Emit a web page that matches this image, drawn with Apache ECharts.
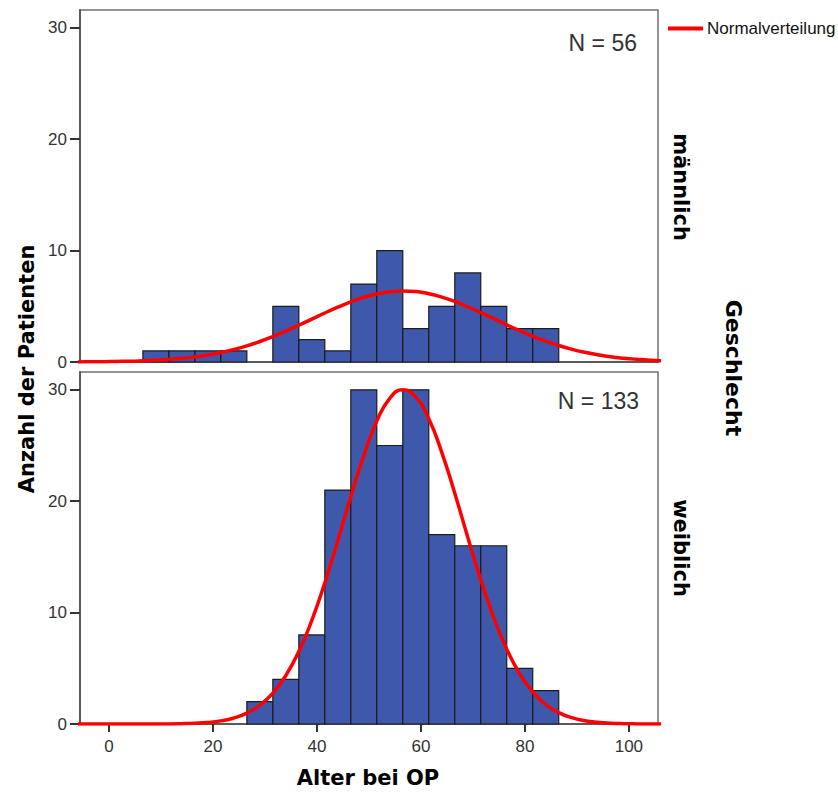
<!DOCTYPE html>
<html>
<head>
<meta charset="utf-8">
<style>
  html, body { margin: 0; padding: 0; background: #ffffff; }
  #chart { width: 838px; height: 794px; }
</style>
<script src="https://cdn.jsdelivr.net/npm/echarts@6/dist/echarts.min.js"></script>
</head>
<body>
<div id="chart"></div>
<script>
// Histogram bins of age at surgery (width 5 years)
const binStarts = [6.5, 11.5, 16.5, 21.5, 26.5, 31.5, 36.5, 41.5, 46.5, 51.5, 56.5, 61.5, 66.5, 71.5, 76.5, 81.5];
const binWidth = 5;
const countsMale   = [1, 1, 1, 1, 0, 5, 2, 1, 7, 10, 3, 5, 8, 5, 3, 3];
const countsFemale = [0, 0, 0, 0, 2, 4, 8, 21, 30, 25, 30, 17, 16, 16, 5, 3];

// Fitted normal curves (expected counts per bin), sampled every 2.5 years
const curveAges = [-8.5, -6, -3.5, -1, 1.5, 4, 6.5, 9, 11.5, 14, 16.5, 19, 21.5, 24, 26.5, 29, 31.5, 34, 36.5, 39,
                   41.5, 44, 46.5, 49, 51.5, 54, 56.5, 59, 61.5, 64, 66.5, 69, 71.5, 74, 76.5, 79, 81.5, 84, 86.5, 89,
                   91.5, 94, 96.5, 99, 101.5, 104, 106.5];
const curveMale = [0.01, 0.01, 0.02, 0.03, 0.05, 0.07, 0.11, 0.16, 0.23, 0.33, 0.46, 0.63, 0.85, 1.13, 1.45, 1.84, 2.28, 2.77, 3.30, 3.85,
                   4.40, 4.92, 5.40, 5.81, 6.11, 6.31, 6.38, 6.32, 6.13, 5.83, 5.44, 4.96, 4.44, 3.89, 3.34, 2.81, 2.32, 1.87, 1.48, 1.15,
                   0.87, 0.65, 0.47, 0.34, 0.24, 0.16, 0.11];
const curveFemale = [0, 0, 0, 0, 0, 0, 0, 0.01, 0.01, 0.03, 0.07, 0.14, 0.28, 0.54, 0.98, 1.68, 2.77, 4.35, 6.51, 9.30,
                     12.67, 16.46, 20.40, 24.11, 27.19, 29.24, 30.0, 29.35, 27.40, 24.39, 20.71, 16.77, 12.96, 9.55, 6.71, 4.50, 2.88, 1.75, 1.02, 0.57,
                     0.30, 0.15, 0.07, 0.03, 0.01, 0, 0];

// Axis ticks and labels
const xTicks = [0, 20, 40, 60, 80, 100];
const yTicks = [0, 10, 20, 30];
const groupLabels = ['männlich', 'weiblich'];
const groupN = [56, 133];
const xTitle = 'Alter bei OP';
const yTitle = 'Anzahl der Patienten';
const stripTitle = 'Geschlecht';
const curveName = 'Normalverteilung';

const BAR_FILL = '#3e58ac';
const BAR_EDGE = '#1c1c1c';
const CURVE = '#ff0000';
const AXIS = '#5a5a5a';
const SANS = 'Liberation Sans, Arial, sans-serif';
const TICK_FONT = { fontFamily: SANS, fontSize: 17, color: '#333333' };
const TITLE_FONT = 'DejaVu Sans, sans-serif';

function binData(counts) {
  return counts.map((c, i) => [binStarts[i], binStarts[i] + binWidth, c]);
}
function curveData(values) {
  return curveAges.map((a, i) => [a, values[i]]);
}

function renderBin(params, api) {
  const count = api.value(2);
  if (!count) return null;
  const p0 = api.coord([api.value(0), count]);
  const p1 = api.coord([api.value(1), 0]);
  return {
    type: 'rect',
    shape: { x: p0[0], y: p0[1], width: p1[0] - p0[0], height: p1[1] - p0[1] },
    style: { fill: BAR_FILL, stroke: BAR_EDGE, lineWidth: 1.2 }
  };
}

const panelTops = [10, 372];
const panelHeight = 352;

const grids = panelTops.map(t => ({
  left: 80, top: t, width: 578, height: panelHeight,
  show: true, borderColor: '#707070', borderWidth: 1.5, backgroundColor: '#ffffff'
}));

const xAxes = panelTops.map((t, i) => ({
  type: 'value', gridIndex: i, min: -5.6, max: 105.6,
  splitLine: { show: false },
  axisLine: { show: true, onZero: false, lineStyle: { color: AXIS, width: 2 } },
  axisTick: { show: i === 1, length: 8, inside: false, customValues: xTicks, lineStyle: { color: '#333333', width: 2 } },
  axisLabel: Object.assign({ show: i === 1, margin: 14, customValues: xTicks }, TICK_FONT)
}));

const yAxes = panelTops.map((t, i) => ({
  type: 'value', gridIndex: i, min: 0, max: 31.6,
  splitLine: { show: false },
  axisLine: { show: true, onZero: false, lineStyle: { color: AXIS, width: 2 } },
  axisTick: { show: true, length: 10, customValues: yTicks, lineStyle: { color: '#333333', width: 2 } },
  axisLabel: Object.assign({ margin: 13, customValues: yTicks }, TICK_FONT)
}));

const curveStyle = {
  type: 'line', name: curveName, smooth: 0.5, showSymbol: false, clip: true,
  lineStyle: { color: CURVE, width: 3.5 }, itemStyle: { color: CURVE }, z: 5
};

const series = [
  { type: 'custom', name: groupLabels[0], xAxisIndex: 0, yAxisIndex: 0, renderItem: renderBin,
    encode: { x: [0, 1], y: 2 }, data: binData(countsMale), silent: true },
  { type: 'custom', name: groupLabels[1], xAxisIndex: 1, yAxisIndex: 1, renderItem: renderBin,
    encode: { x: [0, 1], y: 2 }, data: binData(countsFemale), silent: true },
  Object.assign({}, curveStyle, { xAxisIndex: 0, yAxisIndex: 0, data: curveData(curveMale) }),
  Object.assign({}, curveStyle, { xAxisIndex: 1, yAxisIndex: 1, data: curveData(curveFemale) })
];

const graphic = [
  // Sample sizes inside panels
  { type: 'text', right: 838 - 637, top: 31, style: { text: 'N = ' + groupN[0], fontFamily: SANS, fontSize: 23, fill: '#333333' } },
  { type: 'text', right: 838 - 639, top: 389, style: { text: 'N = ' + groupN[1], fontFamily: SANS, fontSize: 23, fill: '#333333' } },
  // Panel strip labels
  { type: 'text', x: 681, y: 187, rotation: -Math.PI / 2,
    style: { text: groupLabels[0], fontFamily: TITLE_FONT, fontWeight: 'bold', fontSize: 21, fill: '#000000', align: 'center', verticalAlign: 'middle' } },
  { type: 'text', x: 681, y: 548, rotation: -Math.PI / 2,
    style: { text: groupLabels[1], fontFamily: TITLE_FONT, fontWeight: 'bold', fontSize: 21, fill: '#000000', align: 'center', verticalAlign: 'middle' } },
  { type: 'text', x: 733, y: 368, rotation: -Math.PI / 2,
    style: { text: stripTitle, fontFamily: TITLE_FONT, fontWeight: 'bold', fontSize: 22, fill: '#000000', align: 'center', verticalAlign: 'middle' } },
  // Axis titles
  { type: 'text', x: 27, y: 369, rotation: Math.PI / 2,
    style: { text: yTitle, fontFamily: TITLE_FONT, fontWeight: 'bold', fontSize: 21, fill: '#000000', align: 'center', verticalAlign: 'middle' } },
  { type: 'text', x: 368, y: 778,
    style: { text: xTitle, fontFamily: TITLE_FONT, fontWeight: 'bold', fontSize: 21, fill: '#000000', align: 'center', verticalAlign: 'middle' } }
];

const chart = echarts.init(document.getElementById('chart'), null, { renderer: 'svg', width: 838, height: 794 });
chart.setOption({
  animation: false,
  backgroundColor: '#ffffff',
  legend: {
    data: [{ name: curveName, icon: 'rect' }],
    left: 668, top: 20, padding: 0,
    itemWidth: 35, itemHeight: 4, itemGap: 4,
    textStyle: { fontFamily: SANS, fontSize: 17, color: '#111111', padding: [0, 0, 0, -1] }
  },
  grid: grids,
  xAxis: xAxes,
  yAxis: yAxes,
  series: series,
  graphic: graphic
});
</script>
</body>
</html>
